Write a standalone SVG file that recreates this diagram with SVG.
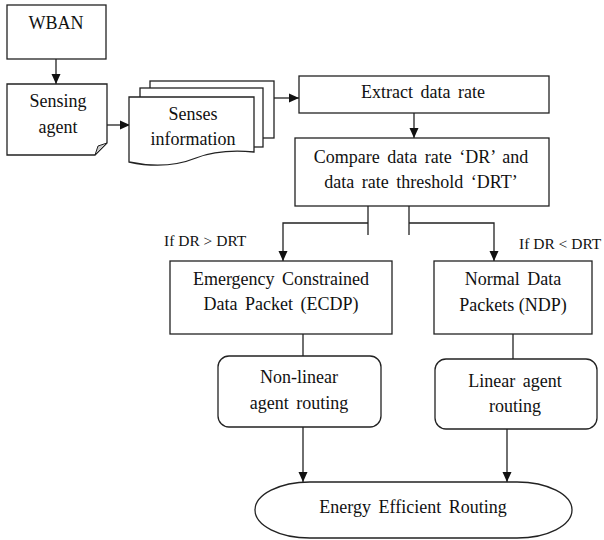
<svg xmlns="http://www.w3.org/2000/svg" width="604" height="540" viewBox="0 0 604 540">
<defs>
<style>
.box{fill:#fff;stroke:#222;stroke-width:1.3}
.ln{fill:none;stroke:#222;stroke-width:1.3}
.t{font-size:18px;fill:#111;text-anchor:middle}
.ws{word-spacing:3px}
.lbl{font-size:15.5px;fill:#111}
</style>
<marker id="ah" viewBox="0 0 10 10" refX="10" refY="5" markerWidth="10" markerHeight="10" markerUnits="userSpaceOnUse" orient="auto">
<path d="M0,0.5 L10,5 L0,9.5 Z" fill="#111"/>
</marker>
</defs>
<rect width="604" height="540" fill="#fff"/>
<g id="connectors">
<line class="ln" x1="56" y1="59" x2="56" y2="84" marker-end="url(#ah)"/>
<line class="ln" x1="107" y1="125" x2="130" y2="125" marker-end="url(#ah)"/>
<line class="ln" x1="274" y1="98" x2="299" y2="98" marker-end="url(#ah)"/>
<line class="ln" x1="414" y1="113" x2="414" y2="138" marker-end="url(#ah)"/>
<line class="ln" x1="368" y1="206" x2="368" y2="235"/>
<line class="ln" x1="409" y1="206" x2="409" y2="235"/>
<polyline class="ln" points="368,223 283,223 283,261" marker-end="url(#ah)"/>
<polyline class="ln" points="409,223 494,223 494,261" marker-end="url(#ah)"/>
<line class="ln" x1="303" y1="334" x2="303" y2="356"/>
<line class="ln" x1="513" y1="334" x2="513" y2="359"/>
<line class="ln" x1="303" y1="427" x2="303" y2="482" marker-end="url(#ah)"/>
<line class="ln" x1="507" y1="429" x2="507" y2="482" marker-end="url(#ah)"/>
</g>
<g id="wban">
<rect class="box" x="7" y="5" width="99" height="54"/>
<text class="t" font-family="Liberation Serif" x="56" y="29">WBAN</text>
</g>
<g id="sensing-agent">
<path class="box" d="M7,84 H107 V143 L95,155 H7 Z"/>
<path d="M95,155 L98,146 L107,143 Z" fill="#ccc" stroke="#222" stroke-width="1"/>
<text class="t" font-family="Liberation Serif" x="58" y="107">Sensing</text>
<text class="t" font-family="Liberation Serif" x="58" y="133">agent</text>
</g>
<g id="senses-information">
<rect class="box" x="150" y="81" width="124" height="57"/>
<rect class="box" x="140" y="88" width="123" height="59"/>
<path class="box" d="M129,97 H254 V152 C232,150 214,151 196,158 C176,166 152,167 129,162 Z"/>
<text class="t" font-family="Liberation Serif" x="193" y="120">Senses</text>
<text class="t" font-family="Liberation Serif" x="193" y="145">information</text>
</g>
<g id="extract">
<rect class="box" x="299" y="76" width="250" height="37"/>
<text class="t ws" font-family="Liberation Serif" x="423" y="98">Extract data rate</text>
</g>
<g id="compare">
<rect class="box" x="295" y="138" width="254" height="68"/>
<text class="t ws" font-family="Liberation Serif" x="421" y="163">Compare data rate ‘DR’ and</text>
<text class="t ws" font-family="Liberation Serif" x="421" y="188">data rate threshold ‘DRT’</text>
</g>
<g id="label-gt">
<text class="lbl" font-family="Liberation Serif" x="164" y="246">If DR &gt; DRT</text>
</g>
<g id="label-lt">
<text class="lbl" font-family="Liberation Serif" x="519" y="249">If DR &lt; DRT</text>
</g>
<g id="ecdp">
<rect class="box" x="170" y="261" width="222" height="73"/>
<text class="t ws" font-family="Liberation Serif" x="281" y="285">Emergency Constrained</text>
<text class="t ws" font-family="Liberation Serif" x="281" y="310">Data Packet (ECDP)</text>
</g>
<g id="ndp">
<rect class="box" x="434" y="261" width="158" height="73"/>
<text class="t ws" font-family="Liberation Serif" x="513" y="285">Normal Data</text>
<text class="t" font-family="Liberation Serif" x="513" y="311">Packets (NDP)</text>
</g>
<g id="nonlinear">
<rect class="box" x="218" y="356" width="163" height="71" rx="11"/>
<text class="t" font-family="Liberation Serif" x="299" y="383">Non-linear</text>
<text class="t ws" font-family="Liberation Serif" x="299" y="409">agent routing</text>
</g>
<g id="linear">
<rect class="box" x="435" y="359" width="162" height="70" rx="11"/>
<text class="t ws" font-family="Liberation Serif" x="515" y="387">Linear agent</text>
<text class="t" font-family="Liberation Serif" x="515" y="412">routing</text>
</g>
<g id="energy">
<rect class="box" x="255" y="482" width="317" height="56" rx="55" ry="28"/>
<text class="t ws" font-family="Liberation Serif" x="413" y="513">Energy Efficient Routing</text>
</g>
</svg>
